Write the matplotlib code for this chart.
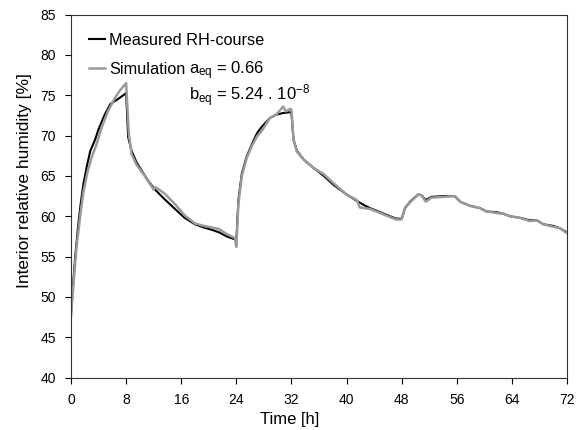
import matplotlib
matplotlib.use("Agg")
import matplotlib.pyplot as plt

plt.rcParams["font.family"] = ["Liberation Sans", "DejaVu Sans"]
plt.rcParams["mathtext.default"] = "regular"

# Measured RH-course (time in h, RH in %)
meas_t = [0, 0.3, 0.6, 1.0, 1.4, 1.8, 2.3, 2.8, 3.5, 4.0, 4.9, 5.7, 6.4, 7.1, 7.9, 8.0,
          8.3, 8.8, 9.5, 10.3, 11.2, 12.2, 13.6, 15.1, 16.5, 18.0, 19.3, 20.5, 21.5, 22.6,
          23.9, 24.0, 24.3, 24.8, 25.5, 26.3, 27.0, 27.7, 28.9, 29.8, 30.8, 31.8, 32.0,
          32.3, 32.8, 33.8, 35.2, 36.7, 38.1, 40.0, 41.5, 42.5, 43.4, 44.9, 46.3, 47.2,
          48.0, 48.5, 49.2, 50.4, 50.9, 51.5, 52.3, 54.0, 55.7, 56.5, 57.9, 59.4, 60.3,
          61.8, 62.8, 63.7, 65.2, 66.6, 67.6, 68.6, 70.0, 71.0, 72.0]
meas_rh = [47.9, 51.5, 54.9, 58.5, 61.5, 64.0, 66.2, 68.1, 69.5, 70.8, 72.6, 73.9, 74.3, 74.7, 75.2, 75.3,
           69.8, 68.1, 66.7, 65.6, 64.4, 63.3, 62.1, 60.9, 59.8, 59.0, 58.6, 58.3, 58.0, 57.5,
           57.1, 57.0, 62.0, 65.3, 67.4, 69.0, 70.3, 71.1, 72.2, 72.6, 72.8, 72.9, 72.8,
           69.5, 68.1, 67.0, 66.0, 65.0, 63.9, 62.7, 61.9, 61.4, 61.0, 60.5, 60.0, 59.7,
           59.7, 61.0, 61.8, 62.7, 62.6, 62.0, 62.4, 62.5, 62.5, 61.8, 61.3, 61.0, 60.6,
           60.5, 60.3, 60.0, 59.8, 59.5, 59.5, 59.0, 58.8, 58.5, 58.0]

# Simulation
sim_t = [0, 0.4, 0.8, 1.4, 1.8, 2.4, 3.0, 3.7, 4.45, 5.4, 6.4, 7.1, 7.8, 8.0, 8.4, 8.8,
         9.5, 10.7, 12.0, 12.3, 13.6, 15.1, 16.5, 18.0, 19.3, 20.5, 21.5, 22.6, 23.8, 24.0,
         24.3, 24.8, 25.5, 26.3, 27.0, 27.7, 28.9, 29.8, 30.8, 31.2, 31.8, 32.0, 32.3, 32.8,
         33.8, 35.2, 36.7, 38.1, 40.0, 41.5, 41.9, 43.4, 44.9, 46.3, 47.2, 48.0, 48.5, 49.2,
         50.4, 50.9, 51.5, 52.3, 54.0, 55.7, 56.5, 57.9, 59.4, 60.3, 61.8, 62.8, 63.7, 65.2,
         66.6, 67.6, 68.6, 70.0, 71.0, 72.0]
sim_rh = [47.6, 52.0, 56.1, 60.5, 63.0, 65.5, 67.3, 68.9, 71.0, 73.1, 74.7, 75.6, 76.3, 76.5, 70.2, 67.7,
          66.4, 65.0, 63.3, 63.6, 62.8, 61.5, 60.1, 59.1, 58.8, 58.6, 58.4, 57.8, 57.3, 56.2,
          61.5, 65.0, 67.2, 68.8, 69.9, 70.6, 72.2, 72.6, 73.6, 73.0, 73.3, 73.2, 69.5, 68.0,
          67.0, 66.0, 65.2, 64.1, 62.7, 62.0, 61.1, 60.9, 60.4, 59.9, 59.6, 59.6, 61.1, 61.7,
          62.7, 62.6, 61.8, 62.3, 62.4, 62.5, 61.8, 61.3, 61.0, 60.6, 60.4, 60.3, 60.0, 59.8,
          59.4, 59.5, 59.0, 58.7, 58.5, 57.9]

x_ticks = list(range(0, 73, 8))
y_ticks = list(range(40, 86, 5))

fig = plt.figure(figsize=(5.81, 4.30), dpi=100)
ax = fig.add_axes([0.1222, 0.122, 0.8537, 0.844])

ax.plot(meas_t, meas_rh, color="black", lw=1.5, label="Measured RH-course")
ax.plot(sim_t, sim_rh, color="#9a9a9a", lw=1.8, label="Simulation")

ax.set_xlim(0, 72)
ax.set_ylim(40, 85)
ax.set_xticks(x_ticks)
ax.set_yticks(y_ticks)
ax.tick_params(direction="out", length=4, width=0.8, labelsize=10, top=False, right=False)
ax.tick_params(axis="x", pad=7)
ax.tick_params(axis="y", pad=7)
for s in ax.spines.values():
    s.set_linewidth(0.8)
    s.set_color("#333333")

ax.set_xlabel("Time [h]", fontsize=12)
ax.xaxis.set_label_coords(0.44, -0.094)
ax.set_ylabel("Interior relative humidity [%]", fontsize=12.5)
ax.yaxis.set_label_coords(-0.079, 0.544)

ax.legend(loc="upper left", bbox_to_anchor=(0.036, 0.95), frameon=False, fontsize=11.7,
          handlelength=1.0, handletextpad=0.25, labelspacing=0.85, borderaxespad=0, borderpad=0)

ax.text(17.1, 78.0, "a$_{eq}$ = 0.66", fontsize=12, va="center")
ax.text(17.1, 75.0, "b$_{eq}$ = 5.24 . 10$^{-8}$", fontsize=12, va="center")

fig.savefig("out.png", dpi=100, facecolor="white")
